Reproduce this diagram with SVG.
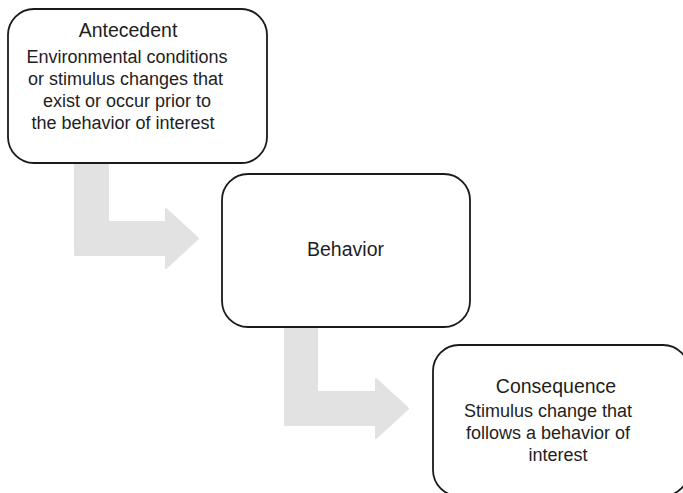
<svg xmlns="http://www.w3.org/2000/svg" width="683" height="493" viewBox="0 0 683 493">
  <style>
    .box { fill: #ffffff; stroke: #1a1a1a; stroke-width: 1.8; }
    .flow { fill: #e2e2e2; stroke: #e2e2e2; stroke-width: 2; stroke-linejoin: round; }
    text { font-family: "Liberation Sans", Arial, sans-serif; fill: #1e1e1e; text-anchor: middle; }
    .title { font-size: 19.5px; }
    .body { font-size: 18px; }
  </style>

  <!-- bent flow arrows between the stages -->
  <g id="connectors">
    <path id="antecedent-to-behavior" class="flow" d="M75,150 L108,150 L108,222 L166,222 L166,209 L198,238.5 L166,268 L166,255 L75,255 Z"/>
    <path id="behavior-to-consequence" class="flow" d="M285,315 L317,315 L317,392 L376,392 L376,379 L408,408.5 L376,438 L376,425 L285,425 Z"/>
  </g>

  <g id="antecedent">
    <rect class="box" x="8" y="9" width="259" height="154" rx="26" ry="26"/>
    <text class="title" x="128" y="37">Antecedent</text>
    <text class="body" x="127" y="63">Environmental conditions</text>
    <text class="body" x="125.5" y="85">or stimulus changes that</text>
    <text class="body" x="127" y="107">exist or occur prior to</text>
    <text class="body" x="123" y="129">the behavior of interest</text>
  </g>

  <g id="behavior">
    <rect class="box" x="222" y="174" width="248" height="153" rx="26" ry="26"/>
    <text class="title" x="345.5" y="256">Behavior</text>
  </g>

  <g id="consequence">
    <rect class="box" x="433" y="345" width="256" height="151" rx="26" ry="26"/>
    <text class="title" x="556" y="393">Consequence</text>
    <text class="body" x="548" y="417">Stimulus change that</text>
    <text class="body" x="548" y="439">follows a behavior of</text>
    <text class="body" x="558" y="461">interest</text>
  </g>
</svg>
